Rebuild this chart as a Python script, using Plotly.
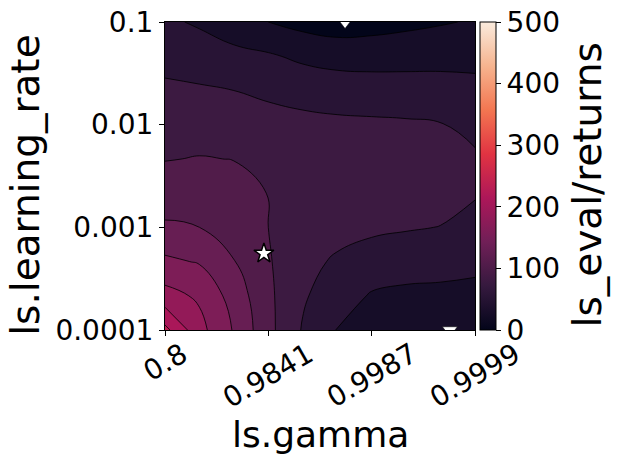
import numpy as np
import plotly.graph_objects as go

# grid of the surrogate surface
gamma_grid = [0.8, 0.91410, 0.96302, 0.98411, 0.993177, 0.997062, 0.998738,
              0.999458, 0.999767, 0.9999]
lr_grid = [0.0001, 0.000215, 0.000464, 0.001, 0.00215, 0.00464, 0.01,
           0.0215, 0.0464, 0.1]
# rows follow lr_grid (bottom to top), columns follow gamma_grid
returns = [
    [232, 183, 148, 107, 73, 49, 40, 35, 30, 31],
    [184, 171, 140, 105, 78, 61, 48, 45, 44, 43],
    [155, 148, 126, 102, 84, 71, 63, 60, 59, 56],
    [128, 125, 112, 100, 91, 85, 80, 77, 74.5, 67],
    [114, 113, 108, 99.5, 94, 91, 89, 87, 83, 77],
    [99, 101, 99.5, 96, 92, 90, 88, 86, 83, 78],
    [90, 90, 87, 83, 81, 80, 79, 78, 76, 69],
    [79, 78, 75, 71, 67, 63, 62, 61, 60, 57],
    [68, 62, 57, 53, 45, 41, 40, 41, 42, 43],
    [54, 47, 36, 25, 17, 12, 15, 19, 23, 27],
]

# best and worst trials
best_gamma = [0.9823]
best_lr = [0.000557]
worst_gamma = [0.99758, 0.999815]
worst_lr = [0.1, 0.0001]

gamma_ticks = ['0.8', '0.9841', '0.9987', '0.9999']
lr_ticks = [0.0001, 0.001, 0.01, 0.1]
lr_ticktext = ['0.0001', '0.001', '0.01', '0.1']
cbar_ticks = [0, 100, 200, 300, 400, 500]

# seaborn "rocket"
rocket = [[0.0, '#03051a'], [1 / 7, '#35193e'], [2 / 7, '#701f57'],
          [3 / 7, '#ad1759'], [4 / 7, '#e13342'], [5 / 7, '#f37651'],
          [6 / 7, '#f6b48f'], [1.0, '#faebdd']]

# plotly colours a filled band by level + size/2 over [start - size/2, end + size/2];
# remap so band colours match rocket(mid / 500)
lev_size = 25
rocket_fill = [[0.0, rocket[0][1]]]
rocket_fill += [[(500 * t + lev_size / 2) / (500 + lev_size), c] for t, c in rocket]
rocket_fill += [[1.0, rocket[-1][1]]]


def to_u(g):
    return -np.log10(1 - np.asarray(g, dtype=float))


u_grid = to_u(gamma_grid)
u_min, u_max = to_u(0.8), to_u(0.9999)
tick_pos = np.linspace(u_min, u_max, len(gamma_ticks))

font = 'DejaVu Sans'

fig = go.Figure()

fig.add_trace(go.Contour(
    x=u_grid, y=lr_grid, z=returns,
    contours=dict(start=0, end=500, size=lev_size, coloring='fill'),
    line=dict(color='black', width=0.8, smoothing=1.3),
    colorscale=rocket_fill, zmin=0, zmax=500,
    showscale=False, hoverinfo='skip',
))

fig.add_trace(go.Scatter(
    x=to_u(best_gamma), y=best_lr, mode='markers',
    marker=dict(symbol='star', size=15, color='white',
                line=dict(color='black', width=1.5)),
    showlegend=False,
))

fig.add_trace(go.Scatter(
    x=to_u(worst_gamma), y=worst_lr, mode='markers',
    marker=dict(symbol='triangle-down', size=13, color='white',
                line=dict(color='black', width=0.5)),
    showlegend=False,
))

# continuous colour bar
fig.add_trace(go.Scatter(
    x=[None], y=[None], mode='markers', showlegend=False, hoverinfo='skip',
    marker=dict(
        colorscale=rocket, cmin=0, cmax=500, color=[0], showscale=True,
        colorbar=dict(
            x=1 + 5 / 310, xanchor='left', xpad=0,
            y=0.5, yanchor='middle', len=1, lenmode='fraction', ypad=0,
            thickness=16, outlinewidth=1, outlinecolor='black',
            ticks='outside', ticklen=5, tickwidth=1, tickcolor='black',
            tickvals=cbar_ticks, ticklabeloverflow='allow',
            tickfont=dict(family=font, size=28, color='black'),
        ),
    ),
))

annotations = []
for pos, txt in zip(tick_pos, gamma_ticks):
    annotations.append(dict(
        x=pos, y=0, xref='x', yref='paper', text=txt, textangle=-30,
        showarrow=False, xanchor='center', yanchor='top', yshift=-4,
        font=dict(family=font, size=28, color='black'),
    ))

annotations.append(dict(
    x=0.5, y=-0.34, xref='paper', yref='paper', text='ls.gamma',
    showarrow=False, xanchor='center', yanchor='middle',
    font=dict(family=font, size=36, color='black'),
))
annotations.append(dict(
    x=-0.45, y=0.47, xref='paper', yref='paper', text='ls.learning_rate',
    textangle=-90, showarrow=False, xanchor='center', yanchor='middle',
    font=dict(family=font, size=39, color='black'),
))
annotations.append(dict(
    x=1.362, y=0.47, xref='paper', yref='paper', text='ls_eval/returns',
    textangle=-90, showarrow=False, xanchor='center', yanchor='middle',
    font=dict(family=font, size=39, color='black'),
))

fig.update_layout(
    width=624, height=469,
    margin=dict(l=165, r=149, t=22, b=139, autoexpand=False),
    paper_bgcolor='white', plot_bgcolor='white',
    font=dict(family=font, color='black'),
    annotations=annotations,
    showlegend=False,
)

fig.update_xaxes(
    range=[u_min, u_max], tickvals=tick_pos, showticklabels=False,
    ticks='outside', ticklen=5, tickwidth=1, tickcolor='black',
    showline=True, linecolor='black', linewidth=1, mirror=True,
    showgrid=False, zeroline=False,
)
fig.update_yaxes(
    type='log', range=[-4, -1], tickvals=lr_ticks, ticktext=lr_ticktext,
    tickfont=dict(family=font, size=28, color='black'), ticklabeloverflow='allow',
    ticks='outside', ticklen=5, tickwidth=1, tickcolor='black',
    showline=True, linecolor='black', linewidth=1, mirror=True,
    showgrid=False, zeroline=False,
)

# drop the default 8 px page margin so the figure sits at the window corner
fig.write_html('out.html', config={'displayModeBar': False},
               post_script="document.body.style.margin = '0';")
